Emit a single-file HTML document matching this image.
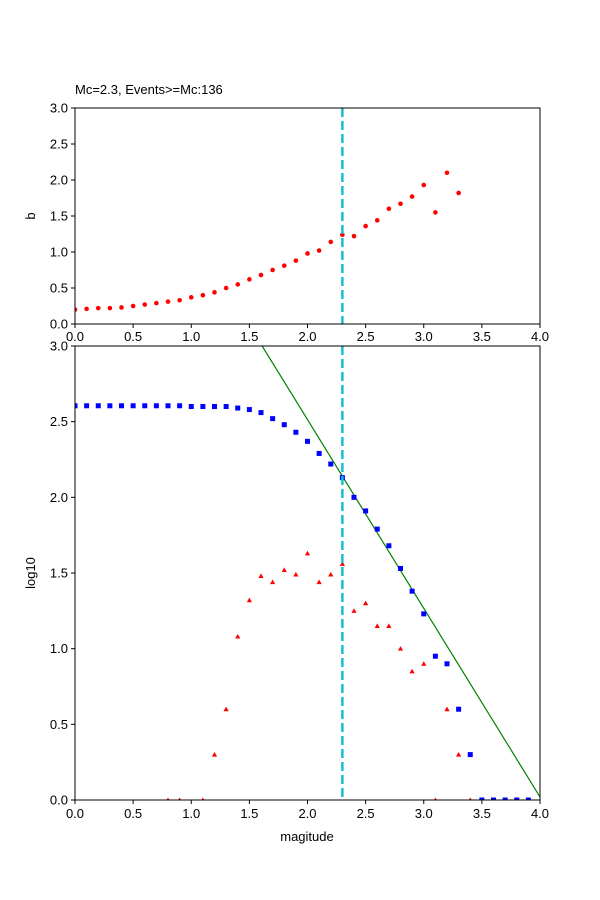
<!DOCTYPE html>
<html><head><meta charset="utf-8"><style>body{margin:0;background:#fff}svg{display:block;font-family:"Liberation Sans","DejaVu Sans",sans-serif}</style></head>
<body><svg id="s" width="600" height="900" xmlns="http://www.w3.org/2000/svg"></svg>
<script>
const s=document.getElementById('s');let h='';
const X=m=>75+116.25*m, Yt=v=>324-72*v, Yb=v=>800-151.333*v;
const b=[0.20,0.21,0.22,0.22,0.23,0.25,0.27,0.29,0.31,0.33,0.37,0.40,0.44,0.50,0.55,0.62,0.68,0.75,0.81,0.88,0.98,1.02,1.14,1.24,1.22,1.36,1.44,1.60,1.67,1.77,1.93,1.55,2.10,1.82];
const sq=[2.605,2.605,2.605,2.605,2.605,2.605,2.605,2.605,2.605,2.605,2.60,2.60,2.60,2.60,2.59,2.58,2.56,2.52,2.48,2.43,2.37,2.29,2.22,2.13,2.0,1.91,1.79,1.68,1.53,1.38,1.23,0.95,0.90,0.60,0.30,0,0,0,0,0];
const tr={8:0,9:0,11:0,12:.30,13:.60,14:1.08,15:1.32,16:1.48,17:1.44,18:1.52,19:1.49,20:1.63,21:1.44,22:1.49,23:1.56,24:1.25,25:1.30,26:1.15,27:1.15,28:1.0,29:.85,30:.90,31:0,32:.60,33:.30,34:0};
h+='<defs><clipPath id="ct"><rect x="75" y="108" width="465" height="216"/></clipPath><clipPath id="cb"><rect x="75" y="346" width="465" height="454"/></clipPath></defs>';
// top
h+='<g clip-path="url(#ct)">';
b.forEach((v,i)=>h+=`<circle cx="${X(i/10)}" cy="${Yt(v)}" r="2.3" fill="red"/>`);
h+='</g>';
// bottom
h+='<g clip-path="url(#cb)">';
h+=`<line x1="${X(1.61)}" y1="${Yb(3)}" x2="${X(4)}" y2="${Yb(0.02)}" stroke="green" stroke-width="1.2"/>`;
sq.forEach((v,i)=>h+=`<rect x="${X(i/10)-2.5}" y="${Yb(v)-2.5}" width="5" height="5" fill="blue"/>`);
for(const k in tr){const x=X(k/10),y=Yb(tr[k]);h+=`<polygon points="${x-2.6},${y+2} ${x+2.6},${y+2} ${x},${y-2.6}" fill="red"/>`;}
h+='</g>';
// cyan lines
h+=`<line x1="${X(2.3)}" y1="108" x2="${X(2.3)}" y2="324" stroke="#17becf" stroke-width="2.5" stroke-dasharray="9,4"/>`;
h+=`<line x1="${X(2.3)}" y1="346" x2="${X(2.3)}" y2="800" stroke="#17becf" stroke-width="2.5" stroke-dasharray="9,4"/>`;
// axes frames
h+='<rect x="75" y="108" width="465" height="216" fill="none" stroke="#000" stroke-width="1"/>';
h+='<rect x="75" y="346" width="465" height="454" fill="none" stroke="#000" stroke-width="1"/>';
for(let i=0;i<=8;i++){const m=i/2,x=X(m),t=m.toFixed(1);
 h+=`<line x1="${x}" y1="324" x2="${x}" y2="328" stroke="#000"/><text x="${x}" y="341" font-size="13" text-anchor="middle">${t}</text>`;
 h+=`<line x1="${x}" y1="800" x2="${x}" y2="804" stroke="#000"/><text x="${x}" y="818" font-size="13" text-anchor="middle">${t}</text>`;}
for(let i=0;i<=6;i++){const v=i/2,t=v.toFixed(1);
 h+=`<line x1="71" y1="${Yt(v)}" x2="75" y2="${Yt(v)}" stroke="#000"/><text x="68" y="${Yt(v)+4.5}" font-size="13" text-anchor="end">${t}</text>`;
 h+=`<line x1="71" y1="${Yb(v)}" x2="75" y2="${Yb(v)}" stroke="#000"/><text x="68" y="${Yb(v)+4.5}" font-size="13" text-anchor="end">${t}</text>`;}
h+='<text x="75" y="94" font-size="13">Mc=2.3, Events&gt;=Mc:136</text>';
h+='<text transform="translate(35,216) rotate(-90)" font-size="13" text-anchor="middle">b</text>';
h+='<text transform="translate(35,573) rotate(-90)" font-size="13" text-anchor="middle">log10</text>';
h+='<text x="307" y="841" font-size="13" text-anchor="middle">magitude</text>';
s.innerHTML=h;
</script></body></html>
